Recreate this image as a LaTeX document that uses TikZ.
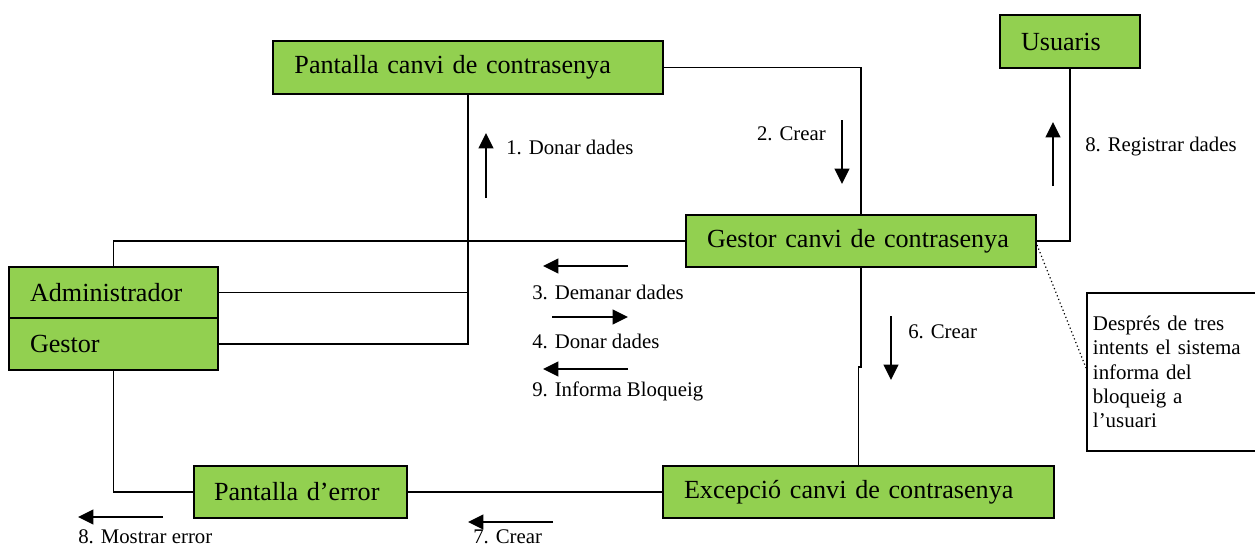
\documentclass[tikz,border=0pt]{standalone}
\usepackage{fontspec}
\setmainfont{Liberation Serif}
\usetikzlibrary{arrows.meta}
\definecolor{boxgreen}{HTML}{92D050}
\tikzset{
  box/.style={draw, line width=1.5pt, fill=boxgreen, anchor=north west, align=left,
    inner ysep=0pt, font=\fontsize{19.6pt}{23pt}\selectfont},
  notebox/.style={draw, line width=1.4pt, anchor=north west, align=left,
    inner ysep=0pt, font=\fontsize{15.7pt}{18.2pt}\selectfont},
  conn/.style={line width=1.3pt},
  msg/.style={line width=1.4pt, -{Triangle[length=11.5pt,width=11pt]}},
  lbl/.style={inner sep=0pt, font=\fontsize{15.6pt}{18pt}\selectfont},
}
\begin{document}
\begin{tikzpicture}[x=0.75pt,y=-0.75pt]
\useasboundingbox (0,0) rectangle (1255,546);

% boxes
\node[box, text width=260.3pt, inner xsep=16.1pt, minimum height=39.75pt] (pant) at (272,40) {Pantalla canvi de contrasenya};
\node[box, text width=73.5pt, inner xsep=15.75pt, minimum height=39.75pt] (usu) at (999,14) {Usuaris};
\node[box, text width=231pt, inner xsep=15.75pt, minimum height=39pt] (gest) at (685,214) {Gestor canvi de contrasenya};
\node[box, text width=125.25pt, inner xsep=15.75pt, minimum height=38.25pt] (admin) at (8,266) {Administrador};
\node[box, text width=125.25pt, inner xsep=15.75pt, minimum height=39pt] (gestor) at (8,317) {Gestor};
\node[box, text width=261.75pt, inner xsep=15.75pt, minimum height=39pt] (exc) at (662,465) {Excepció canvi de contrasenya};
\node[box, text width=129.75pt, inner xsep=15pt, minimum height=39pt] (err) at (193,465) {Pantalla d’error};
\node[notebox, text width=129pt, inner xsep=4.5pt, minimum height=118.5pt] (note) at (1086,292)
  {Després de tres\\intents el sistema\\informa del\\bloqueig a\\l’usuari};

% connectors
\draw[conn] (pant.east) -| (gest.north);
\draw[conn] (usu.south) |- (gest.east);
\draw[conn] (admin.north) |- (gest.west);
\draw[conn] (pant.south) |- (gestor.east);
\draw[conn] (admin.east) -- (admin.east -| pant.south);
\draw[conn] (gest.south) -- ++(0,99) -| (exc.north);
\draw[conn] (gestor.south) |- (err.west);
\draw[conn] (err.east) -- (exc.west);
\draw[dotted, line width=0.9pt] ([yshift=-3pt]gest.east) -- ([yshift=3pt]note.west);

% message arrows
\coordinate (a1s) at (486,198); \coordinate (a1e) at (486,133);
\coordinate (a2s) at (842,120); \coordinate (a2e) at (842,184);
\coordinate (a8s) at (1053,186); \coordinate (a8e) at (1053,122);
\coordinate (a3s) at (628,266); \coordinate (a3e) at (543,266);
\coordinate (a4s) at (552,317); \coordinate (a4e) at (628,317);
\coordinate (a9s) at (628,369); \coordinate (a9e) at (543,369);
\coordinate (a6s) at (891,316); \coordinate (a6e) at (891,380);
\coordinate (a7s) at (553,522); \coordinate (a7e) at (468,522);
\coordinate (amS) at (163,517); \coordinate (amE) at (78,517);
\draw[msg] (a1s) -- (a1e);
\draw[msg] (a2s) -- (a2e);
\draw[msg] (a8s) -- (a8e);
\draw[msg] (a3s) -- (a3e);
\draw[msg] (a4s) -- (a4e);
\draw[msg] (a9s) -- (a9e);
\draw[msg] (a6s) -- (a6e);
\draw[msg] (a7s) -- (a7e);
\draw[msg] (amS) -- (amE);

% labels
\node[lbl, anchor=west] (l1) at (506,147) {1. Donar dades};
\node[lbl, anchor=east] (l2) at (826,134) {2. Crear};
\node[lbl, anchor=west] (l8r) at (1085,147) {8. Registrar dades};
\node[lbl, anchor=west] (l3) at (532,292) {3. Demanar dades};
\node[lbl, anchor=west] (l4) at (532,341) {4. Donar dades};
\node[lbl, anchor=west] (l9) at (532,391) {9. Informa Bloqueig};
\node[lbl, anchor=west] (l6) at (908,332) {6. Crear};
\node[lbl, anchor=west] (l8m) at (78,537) {8. Mostrar error};
\node[lbl, anchor=west] (l7) at (473,537) {7. Crear};
\end{tikzpicture}
\end{document}
